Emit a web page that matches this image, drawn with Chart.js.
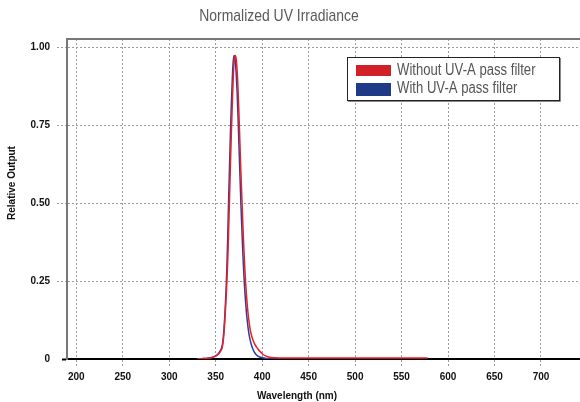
<!DOCTYPE html>
<html>
<head>
<meta charset="utf-8">
<script src="https://cdn.jsdelivr.net/npm/chart.js@4/dist/chart.umd.min.js"></script>
<style>
  html, body { margin: 0; padding: 0; background: #fff; overflow: hidden; }
  #wrap { position: relative; width: 580px; height: 402px; }
</style>
</head>
<body>
<div id="wrap"><canvas id="uvChart"></canvas></div>
<script>
// Tick values and labels
const xTicks = [200, 250, 300, 350, 400, 450, 500, 550, 600, 650, 700];
const yTicks = [0, 0.25, 0.5, 0.75, 1.0];
const yTickLabels = ['0', '0.25', '0.50', '0.75', '1.00'];

// Without UV-A pass filter (red)
const redWavelength = [330, 335, 340, 345, 350, 353, 355, 357, 358, 359, 360, 361, 362, 363, 364, 365, 366, 367, 368, 369, 370, 371, 372, 373, 374, 375, 376, 377, 378, 379, 380, 381, 382, 383, 384, 385, 386, 387, 388, 390, 392, 394, 396, 398, 400, 403, 406, 410, 420, 450, 500, 550, 578];
const redValues = [0, 0.001, 0.002, 0.004, 0.009, 0.016, 0.024, 0.037, 0.055, 0.085, 0.13, 0.185, 0.245, 0.32, 0.42, 0.53, 0.64, 0.74, 0.83, 0.91, 0.96, 0.975, 0.965, 0.93, 0.87, 0.79, 0.7, 0.61, 0.53, 0.45, 0.375, 0.31, 0.255, 0.21, 0.172, 0.142, 0.117, 0.097, 0.082, 0.062, 0.048, 0.038, 0.03, 0.023, 0.017, 0.011, 0.0075, 0.005, 0.0035, 0.003, 0.003, 0.003, 0.003];

// With UV-A pass filter (blue)
const blueWavelength = [330, 335, 340, 345, 350, 353, 355, 357, 358, 359, 360, 361, 362, 363, 364, 365, 366, 367, 368, 369, 370, 371, 372, 373, 374, 375, 376, 377, 378, 379, 380, 381, 382, 383, 384, 385, 386, 387, 388, 390, 392, 395, 400, 405, 410, 420];
const blueValues = [0, 0.001, 0.002, 0.004, 0.01, 0.018, 0.027, 0.043, 0.065, 0.1, 0.15, 0.21, 0.29, 0.4, 0.52, 0.63, 0.74, 0.83, 0.91, 0.96, 0.975, 0.96, 0.92, 0.86, 0.78, 0.69, 0.6, 0.51, 0.43, 0.355, 0.29, 0.235, 0.19, 0.152, 0.122, 0.097, 0.077, 0.062, 0.05, 0.032, 0.02, 0.01, 0.004, 0.0015, 0.0005, 0];

const seriesLabels = ['Without UV-A pass filter', 'With UV-A pass filter'];

const toPoints = (xs, ys) => xs.map((x, i) => ({ x: x, y: ys[i] }));

const sans = "'Liberation Sans', Arial, Helvetica, sans-serif";
const gridGray = '#9c9c9c';

// condensed look: squeeze Liberation Sans horizontally
function narrowText(ctx, text, x, y, squeeze) {
    ctx.save();
    ctx.translate(x, y);
    ctx.scale(squeeze, 1);
    ctx.fillText(text, 0, 0);
    ctx.restore();
}

// title, axis titles, frame top line and the boxed legend
const decor = {
    id: 'decor',
    afterDraw(chart) {
        const ctx = chart.ctx;
        const area = chart.chartArea;
        ctx.save();

        // top frame line
        ctx.strokeStyle = '#777';
        ctx.lineWidth = 2;
        ctx.beginPath();
        ctx.moveTo(area.left - 1, area.top);
        ctx.lineTo(area.right, area.top);
        ctx.stroke();

        // chart title
        ctx.fillStyle = '#5a5a5a';
        ctx.font = '17px ' + sans;
        ctx.textAlign = 'center';
        ctx.textBaseline = 'middle';
        narrowText(ctx, 'Normalized UV Irradiance', 279, 16, 0.82);

        // axis titles
        ctx.fillStyle = '#111';
        ctx.font = 'bold 10px ' + sans;
        ctx.fillText('Wavelength (nm)', 297, 396);
        ctx.save();
        ctx.translate(12, 183);
        ctx.rotate(-Math.PI / 2);
        ctx.fillText('Relative Output', 0, 0);
        ctx.restore();

        // legend box
        const bx = 347, by = 57, bw = 212, bh = 43;
        ctx.fillStyle = '#fff';
        ctx.fillRect(bx, by, bw, bh);
        ctx.strokeStyle = '#222';
        ctx.lineWidth = 1;
        ctx.strokeRect(bx + 0.5, by + 0.5, bw, bh);
        ctx.strokeStyle = '#888';
        ctx.beginPath();
        ctx.moveTo(bx + bw + 1.5, by + 1);
        ctx.lineTo(bx + bw + 1.5, by + bh + 1.5);
        ctx.lineTo(bx + 1, by + bh + 1.5);
        ctx.stroke();

        const swatches = [
            { color: '#d12027', top: 65, h: 11, text: 70.5 },
            { color: '#1f3a87', top: 83, h: 13, text: 89 }
        ];
        ctx.textAlign = 'left';
        ctx.textBaseline = 'middle';
        ctx.font = '16px ' + sans;
        swatches.forEach((s, i) => {
            ctx.fillStyle = s.color;
            ctx.fillRect(356, s.top, 35, s.h);
            ctx.fillStyle = '#555';
            narrowText(ctx, chart.data.datasets[i].label, 397, s.text, 0.82);
        });

        ctx.restore();
    }
};

const ctx = document.getElementById('uvChart').getContext('2d');
new Chart(ctx, {
    type: 'line',
    data: {
        datasets: [
            {
                label: seriesLabels[0],
                data: toPoints(redWavelength, redValues),
                borderColor: '#e8202a',
                borderWidth: 1.5,
                pointRadius: 0,
                cubicInterpolationMode: 'monotone',
                fill: false
            },
            {
                label: seriesLabels[1],
                data: toPoints(blueWavelength, blueValues),
                borderColor: '#2c3e99',
                borderWidth: 1.5,
                pointRadius: 0,
                cubicInterpolationMode: 'monotone',
                fill: false
            }
        ]
    },
    options: {
        responsive: true,
        maintainAspectRatio: false,
        animation: false,
        layout: { padding: { top: 39, left: 0, right: 0, bottom: 0 } },
        plugins: {
            legend: { display: false },
            title: { display: false },
            tooltip: { enabled: false }
        },
        scales: {
            x: {
                type: 'linear',
                min: 190,
                max: 742,
                afterBuildTicks: (scale) => { scale.ticks = xTicks.map(v => ({ value: v })); },
                afterFit: (scale) => { scale.height = 43; },
                ticks: {
                    color: '#111',
                    font: { family: sans, size: 10, weight: 'bold' },
                    padding: 3,
                    maxRotation: 0,
                    callback: (v) => String(v)
                },
                grid: {
                    color: gridGray,
                    lineWidth: 1,
                    tickLength: 9,
                    tickColor: gridGray,
                    tickBorderDash: [2, 2]
                },
                border: { display: true, color: '#000', width: 2, dash: [2, 2] }
            },
            y: {
                min: 0,
                max: 1.028,
                afterBuildTicks: (scale) => { scale.ticks = yTicks.map(v => ({ value: v })); },
                afterFit: (scale) => { scale.width = 67; },
                ticks: {
                    color: '#111',
                    font: { family: sans, size: 10, weight: 'bold' },
                    padding: 7,
                    callback: (v) => yTickLabels[yTicks.indexOf(v)]
                },
                grid: {
                    color: (c) => c.tick && c.tick.value === 0 ? 'rgba(0,0,0,0)' : gridGray,
                    lineWidth: 1,
                    tickLength: 10,
                    tickColor: (c) => c.tick && c.tick.value === 0 ? '#000' : gridGray,
                    tickWidth: (c) => c.tick && c.tick.value === 0 ? 2 : 1,
                    tickBorderDash: (c) => c.tick && c.tick.value === 0 ? [5, 5] : [2, 2],
                    tickBorderDashOffset: (c) => c.tick && c.tick.value === 0 ? 5 : 0
                },
                border: { display: true, color: '#777', width: 2, dash: [2, 2] }
            }
        }
    },
    plugins: [decor]
});
</script>
</body>
</html>
